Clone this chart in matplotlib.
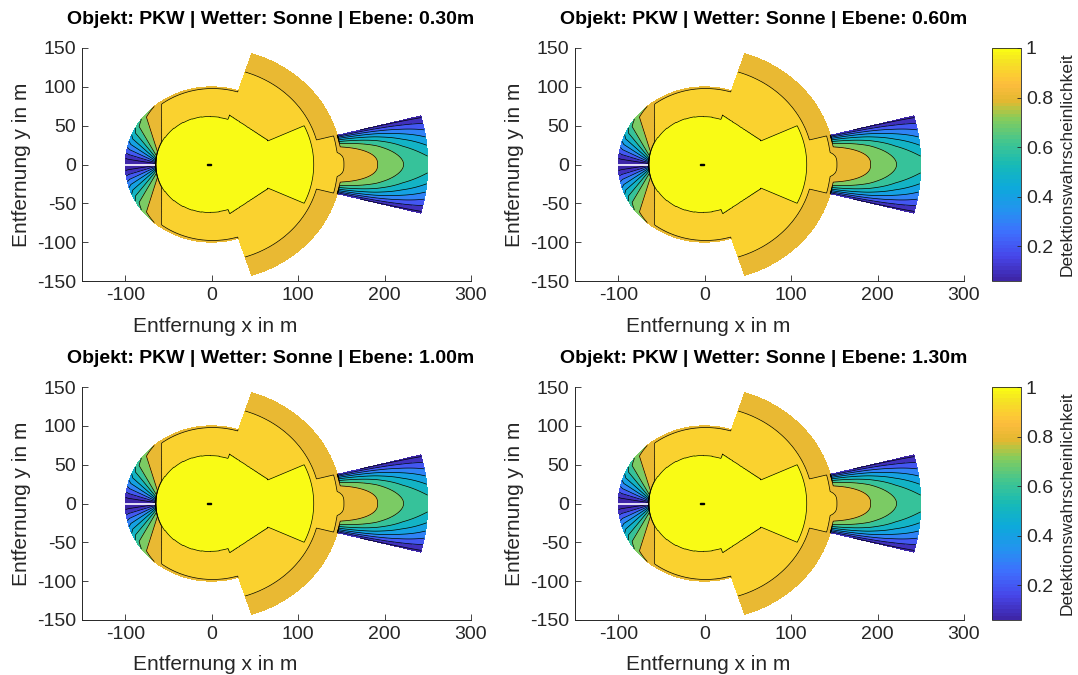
import numpy as np
import matplotlib
matplotlib.use('Agg')
import matplotlib.pyplot as plt
from matplotlib.colors import ListedColormap, LinearSegmentedColormap, Normalize
from matplotlib.cm import ScalarMappable
from matplotlib.path import Path
from matplotlib.patches import Rectangle

plt.rcParams['font.family'] = ['Liberation Sans', 'DejaVu Sans']
plt.rcParams['axes.unicode_minus'] = False

# parula-like colour map (newer MATLAB version), 64 steps
PARULA_ANCHORS = [
    (0.00, (0.2422, 0.1504, 0.6603)),
    (0.10, (0.2760, 0.2750, 0.9150)),
    (0.20, (0.2450, 0.4350, 0.9950)),
    (0.30, (0.1400, 0.5750, 0.9400)),
    (0.40, (0.0500, 0.6650, 0.8550)),
    (0.50, (0.0900, 0.7300, 0.7150)),
    (0.60, (0.2600, 0.7750, 0.5600)),
    (0.70, (0.5300, 0.8000, 0.3550)),
    (0.75, (0.7600, 0.7600, 0.2400)),
    (0.78, (0.8900, 0.7200, 0.1900)),
    (0.85, (0.9900, 0.7400, 0.2400)),
    (0.89, (0.9900, 0.8000, 0.2000)),
    (0.95, (0.9600, 0.8900, 0.1400)),
    (1.00, (0.9769, 0.9839, 0.0805))]
parula = ListedColormap(LinearSegmentedColormap.from_list('p', PARULA_ANCHORS)(np.linspace(0, 1, 64)))

# ---- data ----
objekt = 'PKW'
wetter = 'Sonne'
ebenen = [0.30, 0.60, 1.00, 1.30]

# near field, 360 deg around the car centre, p = 1
near_cx = -3.0
near_range = 62.0
# corner sensors, p = 1 (polar nodes of the outline)
corner_ang = [-72, -26, 26, 72]
corner_rng = [67, 72, 72, 67]
# front mid range, p = 1
front_half = 25.0
front_range = 118.0
# wide front sector: inner / outer ring
wide_half = 72.0
wide_rng = [125.0, 150.0]
wide_p = [0.95, 0.85]
# rear sensor, p over angle seen from a point behind the car, fading at the rim
rear_range = 100.0
rear_x = -58.0
rear_phi = [0, 90, 106, 118, 170, 180]
rear_p = [0.95, 0.90, 0.80, 0.70, 0.10, 0.065]
rear_rim = [97.0, 100.0]
rear_rim_f = [1.0, 0.93]
# long range radar
lr_half = 14.6
lr_rng = [118.0, 250.0]
lr_near = 146.0
lr_near_p = 0.95
lr_r = [146, 153, 192, 222, 250]
lr_p = [0.925, 0.90, 0.80, 0.70, 0.64]
lr_k_r = [146, 200, 250]
lr_k = [4.0, 2.6, 1.5]
lr_drop = 0.9

car_len = 4.6
car_wid = 2.4

# ---- build the field on a polar grid ----
r = np.linspace(0, 250, 501)
th = np.linspace(-180, 180, 1441)
R, TH = np.meshgrid(r, th)
X = R * np.cos(np.deg2rad(TH))
Y = R * np.sin(np.deg2rad(TH))
A = np.abs(TH)
P = np.full(R.shape, np.nan)

def put(mask, val):
    global P
    P = np.fmax(P, np.where(mask, val, np.nan))

put(np.hypot(X - near_cx, Y) <= near_range, 1.0)
poly = [(0, 0)] + [(rr * np.cos(np.deg2rad(a)), rr * np.sin(np.deg2rad(a)))
                   for a, rr in zip(corner_ang, corner_rng)]
inside = Path(poly).contains_points(np.c_[X.ravel(), Y.ravel()]).reshape(X.shape)
put(inside, 1.0)
put((A <= front_half) & (R <= front_range), 1.0)
put((A <= wide_half) & (R <= wide_rng[0]), wide_p[0])
put((A <= wide_half) & (R > wide_rng[0]) & (R <= wide_rng[1]), wide_p[1])

phi = np.degrees(np.arctan2(np.abs(Y), X - rear_x))
p_rear = np.interp(phi, rear_phi, rear_p) * np.interp(R, rear_rim, rear_rim_f)
put(R <= rear_range, p_rear)

u = A / lr_half
k = np.interp(R, lr_k_r, lr_k)
p_lr = np.interp(R, lr_r, lr_p) * (1 - lr_drop * np.clip(u, 0, 1) ** k)
p_lr = np.where(R < lr_near, lr_near_p, p_lr)
put((A <= lr_half) & (R >= lr_rng[0]) & (R <= lr_rng[1]), p_lr)

Pm = np.ma.masked_invalid(P)

vmin, vmax = float(np.nanmin(P)), 1.0
line_levels = [0.1, 0.2, 0.3, 0.4, 0.5, 0.6, 0.7, 0.8, 0.9, 0.995]
fill_levels = [0.0] + line_levels + [1.01]

def lvl_color(L):
    if L < 0.1:
        return parula(0)
    if L > 0.99:
        return parula(1.0)
    return parula((L - vmin) / (vmax - vmin))

fill_colors = [lvl_color(L) for L in fill_levels[:-1]]

# ---- figure ----
fig = plt.figure(figsize=(10.78, 6.75), dpi=100)
W, H = 1078, 675
ax_pos = [(82, 48), (575, 48), (82, 387), (575, 387)]
ax_w, ax_h = 389, 233
gray = '#262626'

for i, (e, (px, py)) in enumerate(zip(ebenen, ax_pos)):
    ax = fig.add_axes([px / W, 1 - (py + ax_h) / H, ax_w / W, ax_h / H])
    ax.contourf(X, Y, Pm, levels=fill_levels, colors=fill_colors)
    ax.contour(X, Y, Pm, levels=line_levels, colors='k', linewidths=0.5)
    # seam of the polar grid behind the car
    ax.plot([-rear_range, near_cx - near_range], [0, 0], color='#f2f0ff', lw=1.3,
            solid_capstyle='butt', zorder=4)
    ax.add_patch(Rectangle((-car_len - 0.7, -car_wid / 2), car_len, car_wid, color='black', zorder=5))
    ax.set_xlim(-150, 300)
    ax.set_ylim(-150, 150)
    ax.set_xticks([-100, 0, 100, 200, 300])
    ax.set_yticks([-150, -100, -50, 0, 50, 100, 150])
    for s in ['top', 'right']:
        ax.spines[s].set_visible(False)
    for s in ['left', 'bottom']:
        ax.spines[s].set_color(gray)
        ax.spines[s].set_linewidth(0.7)
    ax.tick_params(direction='in', length=4, width=0.6, color=gray, labelsize=14,
                   labelcolor=gray, pad=4)
    ax.set_title(f'Objekt: {objekt} | Wetter: {wetter} | Ebene: {e:.2f}m',
                 fontsize=14, fontweight='bold', pad=17, x=0.485)
    ax.set_xlabel('Entfernung x in m', fontsize=15, color=gray, va='center')
    ax.xaxis.set_label_coords(0.342, -45 / ax_h)
    ax.set_ylabel('Entfernung y in m', fontsize=15, color=gray, va='center')
    ax.yaxis.set_label_coords(-60 / ax_w, 0.5)

    if i % 2 == 1:
        cax = fig.add_axes([992 / W, 1 - (py + ax_h) / H, 29 / W, ax_h / H])
        sm = ScalarMappable(norm=Normalize(vmin, vmax), cmap=parula)
        cb = fig.colorbar(sm, cax=cax)
        cb.set_ticks([0.2, 0.4, 0.6, 0.8, 1.0])
        cb.set_ticklabels(['0.2', '0.4', '0.6', '0.8', '1'])
        cb.outline.set_edgecolor(gray)
        cb.outline.set_linewidth(0.6)
        cax.tick_params(direction='in', length=3, width=0.6, color=gray,
                        labelsize=14, labelcolor=gray)
        cb.set_label('Detektionswahrscheinlichkeit', fontsize=12.5, color=gray, labelpad=5)

fig.savefig('out.png', dpi=100)
